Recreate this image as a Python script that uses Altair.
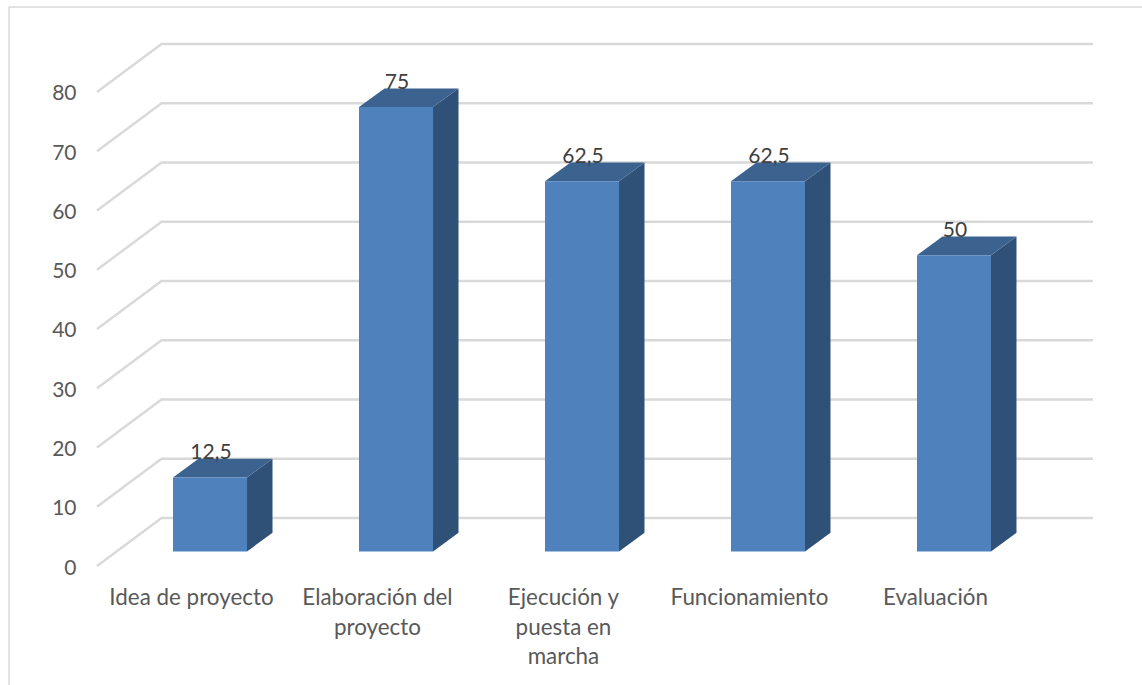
import altair as alt
import pandas as pd

categories = ["Idea de proyecto", "Elaboración del\nproyecto", "Ejecución y\npuesta en\nmarcha",
              "Funcionamiento", "Evaluación"]
values = [12.5, 75, 62.5, 62.5, 50]
y_ticks = [0, 10, 20, 30, 40, 50, 60, 70, 80]

# Box geometry of the pseudo-3D scene, in scale units
X_MAX = 5.355       # one unit is one category slot
Y_MAX = 88.1
WALL_DX = 0.347     # front edge of the floor to the back wall
WALL_DY = 8.1
BAR_START = 0.4086
BAR_W = 0.398
BAR_DX = 0.137
BAR_DY = 3.16
BAR_BASE = 2.45

FONT = "Lato"
x_scale = alt.Scale(domain=[0, X_MAX], nice=False, zero=False)
y_scale = alt.Scale(domain=[0, Y_MAX], nice=False, zero=False)

x_q = alt.X("x:Q", scale=x_scale, axis=None)
y_q = alt.Y("y:Q", scale=y_scale,
            axis=alt.Axis(values=y_ticks, title=None, domain=False, ticks=False, grid=False,
                          labelFont=FONT, labelFontSize=21, labelColor="#595959", labelPadding=21,
                          labelOffset=2))

# Gridlines: a diagonal across the side wall, then a run along the back wall
grid_rows = []
for t in y_ticks:
    grid_rows += [
        {"tick": t, "x": 0, "y": t},
        {"tick": t, "x": WALL_DX, "y": t + WALL_DY},
        {"tick": t, "x": X_MAX, "y": t + WALL_DY},
    ]
grid = alt.Chart(pd.DataFrame(grid_rows)).mark_line(color="#d9d9d9", strokeWidth=2.4).encode(
    x=x_q, y=y_q, detail="tick:N", order="x:Q")

front_rows, side_rows, top_rows, label_rows = [], [], [], []
for i, (cat, v) in enumerate(zip(categories, values)):
    x0 = i + BAR_START
    x1 = x0 + BAR_W
    top = BAR_BASE + v
    front_rows.append({"cat": cat, "x": x0, "x2": x1, "y": BAR_BASE, "y2": top})
    side_rows += [
        {"cat": cat, "x": x1, "y": BAR_BASE, "y2": top},
        {"cat": cat, "x": x1 + BAR_DX, "y": BAR_BASE + BAR_DY, "y2": top + BAR_DY},
    ]
    top_rows += [
        {"cat": cat, "x": x0, "y": top, "y2": top},
        {"cat": cat, "x": x0 + BAR_DX, "y": top, "y2": top + BAR_DY},
        {"cat": cat, "x": x1, "y": top, "y2": top + BAR_DY},
        {"cat": cat, "x": x1 + BAR_DX, "y": top + BAR_DY, "y2": top + BAR_DY},
    ]
    label_rows.append({"x": (x0 + x1) / 2, "y": top, "label": str(v).replace(".", ",")})

front = alt.Chart(pd.DataFrame(front_rows)).mark_rect(color="#4f81bd").encode(
    x=x_q, x2="x2:Q", y=y_q, y2="y2:Q")
side = alt.Chart(pd.DataFrame(side_rows)).mark_area(color="#2f5178").encode(
    x=x_q, y=y_q, y2="y2:Q", detail="cat:N")
top_face = alt.Chart(pd.DataFrame(top_rows)).mark_area(color="#3c6390").encode(
    x=x_q, y=y_q, y2="y2:Q", detail="cat:N")

value_labels = alt.Chart(pd.DataFrame(label_rows)).mark_text(
    font=FONT, fontSize=21, color="#404040", baseline="middle", dy=-24.5, dx=1
).encode(x=x_q, y=y_q, text="label:N")

cat_df = pd.DataFrame({"x": [i + 0.508 for i in range(len(categories))], "label": categories})
cat_labels = alt.Chart(cat_df).mark_text(
    font=FONT, fontSize=22.4, color="#595959", align="center", baseline="alphabetic",
    lineBreak="\n", lineHeight=29.5
).encode(x=x_q, y=alt.value(561), text="label:N")

# Thin chart-area frame, open at the right and at the bottom
frame_df = pd.DataFrame({"edge": ["left"]})
frame_left = alt.Chart(frame_df).mark_rule(color="#d9d9d9", strokeWidth=1.5).encode(
    x=alt.value(-88), y=alt.value(-37), y2=alt.value(641))
frame_top = alt.Chart(frame_df).mark_rule(color="#d9d9d9", strokeWidth=1.5).encode(
    x=alt.value(-88), x2=alt.value(1045), y=alt.value(-37))

chart = alt.layer(
    frame_left, frame_top, grid, side, top_face, front, value_labels, cat_labels
).properties(
    width=996,
    height=522,
    background="#ffffff",
    autosize=alt.AutoSizeParams(type="none"),
    padding={"left": 97, "top": 44, "right": 49, "bottom": 119},
).configure_view(stroke=None)

chart.save("out.html", embed_options={"renderer": "svg", "actions": False})
